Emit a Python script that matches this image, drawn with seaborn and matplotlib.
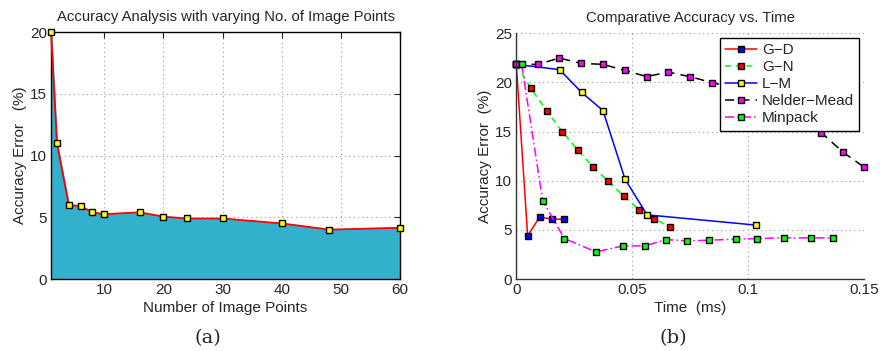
import numpy as np
import pandas as pd
import matplotlib
matplotlib.use("Agg")
import matplotlib.pyplot as plt
import matplotlib.ticker as ticker
import seaborn as sns

# (a) accuracy vs number of image points
n_points = [1, 2, 4, 6, 8, 10, 16, 20, 24, 30, 40, 48, 60]
n_err = [20.0, 11.0, 6.0, 5.9, 5.4, 5.25, 5.4, 5.05, 4.9, 4.9, 4.5, 4.0, 4.15]

# (b) accuracy vs time for each method
gd_t = [0.0, 0.0049, 0.0101, 0.0152, 0.0204]
gd_err = [21.84, 4.39, 6.33, 6.09, 6.09]

gn_t = [0.0, 0.0063, 0.0131, 0.0198, 0.0265, 0.0331, 0.0397, 0.0463, 0.0529, 0.0595, 0.0662]
gn_err = [21.84, 19.4, 17.1, 15.0, 13.1, 11.4, 9.93, 8.44, 7.04, 6.12, 5.31]

lm_t = [0.0, 0.0187, 0.0282, 0.0374, 0.0469, 0.0564, 0.1036]
lm_err = [21.84, 21.3, 18.98, 17.14, 10.17, 6.53, 5.48]

nm_t = [0.0, 0.0092, 0.0186, 0.028, 0.0374, 0.0469, 0.0562, 0.0656, 0.0751, 0.0846,
        0.094, 0.1034, 0.1128, 0.1222, 0.1316, 0.1408, 0.15]
nm_err = [21.84, 21.84, 22.48, 21.94, 21.84, 21.22, 20.6, 21.05, 20.58, 19.97,
          19.5, 18.8, 17.8, 16.5, 14.9, 12.93, 11.39]

mp_t = [0.0023, 0.0114, 0.0207, 0.0344, 0.046, 0.0555, 0.0647, 0.0738, 0.0833,
        0.0946, 0.104, 0.1156, 0.1271, 0.1365]
mp_err = [21.84, 7.96, 4.12, 2.76, 3.37, 3.37, 4.01, 3.88, 3.95, 4.05, 4.12, 4.18, 4.18, 4.18]

methods = ["G\u2212D", "G\u2212N", "L\u2212M", "Nelder\u2212Mead", "Minpack"]
line_colors = ["#ff0000", "#00ff00", "#0000ff", "#000000", "#ff00ff"]
marker_colors = ["#0000ff", "#ff0000", "#ffff00", "#ff00ff", "#00ff00"]
line_styles = ["-", (0, (4, 3)), "-", (0, (6, 4)), (0, (6, 2, 1, 2))]

sns.set_style("white")
plt.rcParams["font.family"] = ["Liberation Sans", "DejaVu Sans"]
plt.rcParams["xtick.direction"] = "in"
plt.rcParams["ytick.direction"] = "in"

fig = plt.figure(figsize=(8.8, 3.51), dpi=100)
ax1 = fig.add_axes([0.058, 0.2051, 0.3966, 0.7037])
ax2 = fig.add_axes([0.5867, 0.2051, 0.3951, 0.7000])

grid_kw = dict(color="#999999", linestyle=(0, (1, 3)), linewidth=0.8)
mk = dict(marker="s", markersize=4, markeredgecolor="black", markeredgewidth=1.0,
          clip_on=False)

# ---- panel (a)
df_a = pd.DataFrame({"points": n_points, "err": n_err})
ax1.fill_between(df_a["points"], df_a["err"], 0, color="#33b0cc", zorder=1)
sns.lineplot(data=df_a, x="points", y="err", ax=ax1, color="red", linewidth=1.3,
             markerfacecolor="yellow", zorder=3, **mk)
ax1.set_xlim(1, 60)
ax1.set_ylim(0, 20)
ax1.set_xticks([10, 20, 30, 40, 50, 60])
ax1.set_yticks([0, 5, 10, 15, 20])
ax1.grid(True, **grid_kw)
ax1.set_axisbelow(True)
for s in ax1.spines.values():
    s.set_color("black")
    s.set_linewidth(1.0)
ax1.tick_params(top=True, right=True, labelsize=11, length=4, pad=3)
ax1.set_title("Accuracy Analysis with varying No. of Image Points", fontsize=10.7, pad=8)
ax1.set_xlabel("Number of Image Points", fontsize=11, labelpad=3)
ax1.set_ylabel("Accuracy Error   (%)", fontsize=11, labelpad=2)

# ---- panel (b)
series = [(gd_t, gd_err), (gn_t, gn_err), (lm_t, lm_err), (nm_t, nm_err), (mp_t, mp_err)]
for name, (t, e), lc, mc, ls in zip(methods, series, line_colors, marker_colors, line_styles):
    df_b = pd.DataFrame({"t": t, "err": e})
    sns.lineplot(data=df_b, x="t", y="err", ax=ax2, color=lc, linewidth=1.1,
                 linestyle=ls, markerfacecolor=mc, label=name, **mk)
ax2.set_xlim(0, 0.15)
ax2.set_ylim(0, 25)
ax2.set_xticks([0, 0.05, 0.1, 0.15])
ax2.set_yticks([0, 5, 10, 15, 20, 25])
ax2.xaxis.set_major_formatter(ticker.FuncFormatter(lambda v, p: f"{v:g}"))
ax2.grid(True, **grid_kw)
ax2.set_axisbelow(True)
ax2.spines["top"].set_visible(False)
ax2.spines["right"].set_visible(False)
for side in ["left", "bottom"]:
    ax2.spines[side].set_color("#333333")
    ax2.spines[side].set_linewidth(1.0)
ax2.tick_params(labelsize=11, length=4, pad=3)
ax2.set_title("Comparative Accuracy vs. Time", fontsize=10.7, pad=8)
ax2.set_xlabel("Time  (ms)", fontsize=11, labelpad=3)
ax2.set_ylabel("Accuracy Error  (%)", fontsize=11, labelpad=2)
leg = ax2.legend(loc="upper right", fontsize=11, frameon=True, fancybox=False,
                 framealpha=1, edgecolor="black", borderpad=0.35, labelspacing=0.2,
                 handlelength=2.1, handletextpad=0.3, borderaxespad=0.3)
leg.get_frame().set_linewidth(1.0)
leg.set_zorder(10)

# captions
fig.text(0.236, 0.037, "(a)", ha="center", va="center", fontsize=14, family="DejaVu Serif")
fig.text(0.765, 0.037, "(b)", ha="center", va="center", fontsize=14, family="DejaVu Serif")

fig.savefig("out.png", dpi=100)
